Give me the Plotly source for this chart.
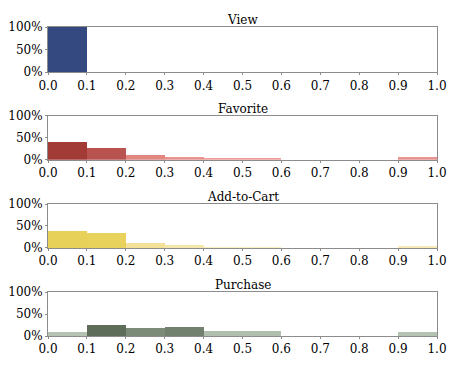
import plotly.graph_objects as go
from plotly.subplots import make_subplots

bin_left = [0.0, 0.1, 0.2, 0.3, 0.4, 0.5, 0.6, 0.7, 0.8, 0.9]
panels = ["View", "Favorite", "Add-to-Cart", "Purchase"]

view_pct = [100, 0, 0, 0, 0, 0, 0, 0, 0, 0]
favorite_pct = [40, 27, 11, 7, 4, 4, 0, 0, 0, 7]
cart_pct = [39, 34, 12, 7, 2, 2, 0, 0, 0, 4]
purchase_pct = [9, 24, 18, 20, 10, 10, 0, 0, 0, 9]

series = [view_pct, favorite_pct, cart_pct, purchase_pct]

# light -> dark colour ramps, bars shaded by their own height
scales = [
    [[0, "#c9d2e6"], [1, "#33497f"]],
    [[0, "#f2a9a6"], [0.3, "#e0837f"], [0.7, "#b5504c"], [1, "#a23a36"]],
    [[0, "#f9efc4"], [0.3, "#f3e19a"], [0.8, "#e9d35c"], [1, "#e8d158"]],
    [[0, "#c6d2c4"], [0.4, "#b3c2b1"], [0.75, "#7b8b77"], [1, "#5e6c5a"]],
]

domains = [[0.854, 1.0], [0.57, 0.712], [0.285, 0.427], [0.0, 0.142]]

SERIF = "DejaVu Serif"

fig = make_subplots(rows=4, cols=1)

for i, (name, vals) in enumerate(zip(panels, series)):
    fig.add_trace(
        go.Bar(
            x=bin_left,
            y=vals,
            width=0.1,
            offset=0,
            name=name,
            marker=dict(color=vals, colorscale=scales[i], cmin=0, cmax=max(vals), line=dict(width=0)),
            showlegend=False,
        ),
        row=i + 1,
        col=1,
    )
    ax = "" if i == 0 else str(i + 1)
    fig.update_layout({f"yaxis{ax}": dict(domain=domains[i])})
    fig.add_annotation(
        text=name,
        x=0.5,
        xref="paper",
        y=domains[i][1],
        yref="paper",
        yanchor="bottom",
        xanchor="center",
        showarrow=False,
        yshift=-2,
        font=dict(family=SERIF, size=12, color="#000000"),
    )

fig.update_xaxes(
    range=[0, 1],
    tickvals=[0, 0.1, 0.2, 0.3, 0.4, 0.5, 0.6, 0.7, 0.8, 0.9, 1.0],
    ticktext=["0.0", "0.1", "0.2", "0.3", "0.4", "0.5", "0.6", "0.7", "0.8", "0.9", "1.0"],
    showline=True,
    mirror=True,
    linecolor="#8c8c8c",
    linewidth=1,
    ticks="outside",
    ticklen=2,
    tickcolor="#8c8c8c",
    showgrid=False,
    zeroline=False,
    automargin=False,
    tickfont=dict(family=SERIF, size=12, color="#000000"),
)
fig.update_yaxes(
    range=[0, 100],
    tickvals=[0, 50, 100],
    ticktext=["0%", "50%", "100%"],
    showline=True,
    mirror=True,
    linecolor="#8c8c8c",
    linewidth=1,
    ticks="outside",
    ticklen=2,
    tickcolor="#8c8c8c",
    showgrid=False,
    zeroline=False,
    automargin=False,
    tickfont=dict(family=SERIF, size=12, color="#000000"),
)

# page body has an 8px margin, so the figure is shrunk to fit the window
fig.update_layout(
    width=451,
    height=359,
    margin=dict(l=40, r=22, t=19, b=31),
    bargap=0,
    plot_bgcolor="#ffffff",
    paper_bgcolor="#ffffff",
    font=dict(family=SERIF, color="#000000", size=12),
)

fig.write_html("out.html")
